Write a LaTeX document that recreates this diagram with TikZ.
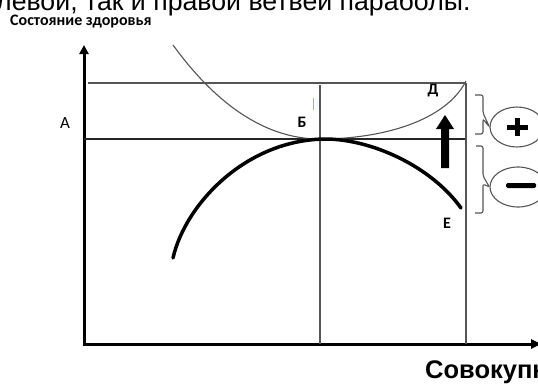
\documentclass[tikz,border=0pt]{standalone}
\usepackage{fontspec}
\setmainfont{Liberation Sans}
\newfontfamily\calib{Carlito}
\usetikzlibrary{arrows.meta,shapes.geometric}
\definecolor{thinc}{HTML}{555555}
\definecolor{tickc}{HTML}{8DB4E2}
\begin{document}
\begin{tikzpicture}[x=1pt,y=-1pt,
  thinline/.style={draw=thinc,line width=1.1pt},
  axisline/.style={line width=3pt,line join=miter,{Triangle[width=9pt,length=9pt]}-{Triangle[width=9pt,length=10pt]}},
  thickcurve/.style={line width=3.5pt,line cap=round},
  lbl/.style={font=\calib\fontsize{17}{17}\selectfont,inner sep=0pt},
  blbl/.style={font=\calib\bfseries\fontsize{16}{16}\selectfont,inner sep=0pt},
  sign/.style={draw=thinc,line width=1.1pt,ellipse,inner sep=0pt}]
\clip (0,0) rectangle (538,383);
% texts
\node[anchor=base west,inner sep=0pt,font=\fontsize{26.7}{26.7}\selectfont] (frag) at (-4,10) {левой, так и правой ветвей параболы.};
\node[anchor=base west,inner sep=0pt,font=\calib\bfseries\fontsize{16}{16}\selectfont] (title) at (10,25.5) {Состояние здоровья};
\node[anchor=base west,inner sep=0pt,font=\bfseries\fontsize{25.5}{25.5}\selectfont] (xlabel) at (425,378) {Совокупность};
% axes
\coordinate (O) at (84,344);
\coordinate (ytop) at (84,45);
\coordinate (xend) at (541,344);
\draw[axisline] (ytop) -- (O) -- (xend);
% guide lines
\coordinate (tl) at (88,83);
\coordinate (tr) at (466,83);
\coordinate (ml) at (84,139);
\coordinate (mr) at (466,139);
\coordinate (v1t) at (320,85);
\coordinate (v1b) at (320,344);
\coordinate (v2b) at (466,344);
\draw[thinline] (tl) -- (tr);
\draw[line width=1.2pt,draw=black!85] (ml) -- (mr);
\draw[thinline] (v1t) -- (v1b);
\draw[thinline] (tr) -- (v2b);
% upper thin curve
\coordinate (ua) at (173,45);
\coordinate (uv) at (320,139);
\coordinate (ud) at (466,81);
\draw[thinline] (ua) .. controls (200,82) and (250,139) .. (uv)
  .. controls (380,139) and (445,122) .. (ud);
% lower thick curve
\coordinate (la) at (173,258);
\coordinate (lv) at (325,139);
\coordinate (le) at (461,208);
\draw[thickcurve] (la) .. controls (185,205) and (245,140) .. (lv)
  .. controls (370,139) and (430,165) .. (le);
% big arrow
\fill (441,168) -- (449,168) -- (449,129) -- (454,129) -- (445,115) -- (436,129) -- (441,129) -- cycle;
% blue tick
\coordinate (bt1) at (313,98);
\coordinate (bt2) at (313,110);
\draw[tickc,line width=1pt] (bt1) -- (bt2);
% labels
\node[lbl] (A) at (65,123) {А};
\node[blbl] (B) at (302,122) {Б};
\node[blbl] (D) at (433,91) {Д};
\node[blbl] (E) at (447,223) {Е};
% signs
\node[sign,minimum width=54pt,minimum height=40pt] (plus) at (517,127) {};
\node[sign,minimum width=56pt,minimum height=40pt] (minus) at (518,187) {};
\fill (507,124.5) rectangle (528,129.5);
\fill (515,118) rectangle (520,136);
\fill[rounded corners=1.5pt] (506,183) rectangle (536,188);
% braces
\draw[thinc,line width=1.1pt,rounded corners=2pt] (475,95) -- (483,95) -- (483,113) -- (plus.west) -- (483,119) -- (483,134) -- (475,134);
\draw[thinc,line width=1.1pt,rounded corners=2pt] (476,146) -- (483,146) -- (483,176) -- (minus.west) -- (483,184) -- (483,213) -- (475,213);
\end{tikzpicture}
\end{document}
